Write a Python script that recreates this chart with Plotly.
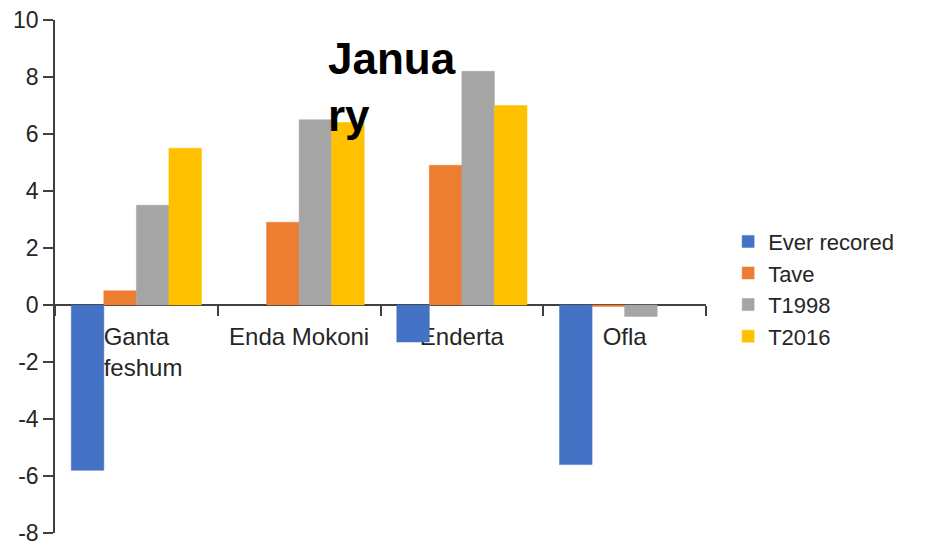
import plotly.graph_objects as go

# January temperature comparison by district
districts = ["Ganta feshum", "Enda Mokoni", "Enderta", "Ofla"]
district_labels = ["Ganta<br>&nbsp;&nbsp;feshum", "Enda Mokoni", "Enderta", "Ofla"]

ever_recorded = [-5.8, None, -1.3, -5.6]
tave = [0.5, 2.9, 4.9, -0.05]
t1998 = [3.5, 6.5, 8.2, -0.4]
t2016 = [5.5, 6.4, 7.0, None]

series_names = ["Ever recored", "Tave", "T1998", "T2016"]
series_values = [ever_recorded, tave, t1998, t2016]
series_colors = ["#4472C4", "#ED7D31", "#A5A5A5", "#FFC000"]

y_ticks = [-8, -6, -4, -2, 0, 2, 4, 6, 8, 10]
y_tick_text = ["-8", "-6", "-4", "-2", "0", "2", "4", "6", "8", "10"]
y_min, y_max = -8, 10

FONT = "Liberation Sans, Arial, sans-serif"
TEXT = "#262626"
AXIS = "#404040"

fig = go.Figure()
for name, vals, col in zip(series_names, series_values, series_colors):
    fig.add_trace(go.Bar(
        x=districts, y=vals, name=name,
        marker=dict(color=col, line=dict(color=col, width=0.5)),
    ))

fig.update_layout(
    width=925, height=545,
    margin=dict(l=55, r=219, t=20, b=12),
    paper_bgcolor="white", plot_bgcolor="white",
    barmode="group", bargap=0.2, bargroupgap=0,
    font=dict(family=FONT, color=TEXT, size=22),
    showlegend=True,
    legend=dict(
        x=1.034, xanchor="left", y=0.609, yanchor="top",
        font=dict(size=22, color=TEXT, family=FONT),
        bgcolor="rgba(0,0,0,0)", tracegroupgap=0,
    ),
    annotations=[dict(
        text="<b>Janua<br>ry</b>", xref="paper", yref="paper",
        x=0.417, y=0.977, xanchor="left", yanchor="top", align="left",
        showarrow=False, font=dict(size=44, color="black", family=FONT),
    )],
)

fig.update_yaxes(
    range=[y_min, y_max], tickvals=y_ticks, ticktext=y_tick_text,
    showgrid=False, zeroline=False,
    showline=True, linecolor=AXIS, linewidth=1.5,
    ticks="outside", ticklen=10, tickcolor=AXIS, tickwidth=1.5,
    tickfont=dict(size=23, color=TEXT), ticklabeloverflow="allow",
    automargin=False, fixedrange=True,
)

fig.update_xaxes(
    type="category", tickvals=districts, ticktext=district_labels,
    anchor="free", position=(0 - y_min) / (y_max - y_min),
    tickson="boundaries", showgrid=False, zeroline=False,
    showline=True, linecolor=AXIS, linewidth=1.5,
    ticks="outside", ticklen=10, tickcolor=AXIS, tickwidth=1.5,
    tickfont=dict(size=24, color=TEXT), ticklabelstandoff=10,
    layer="below traces", automargin=False, fixedrange=True,
)

fig.write_html("out.html")
